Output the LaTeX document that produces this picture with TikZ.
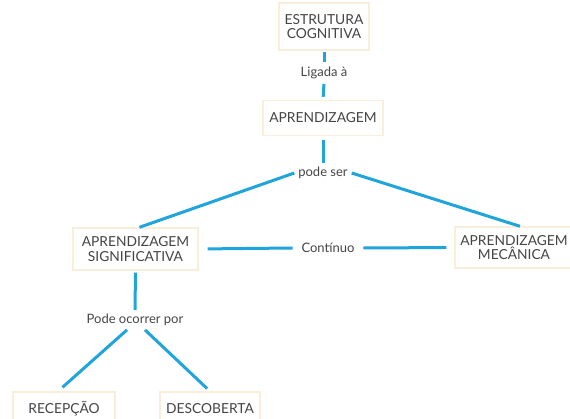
\documentclass[tikz,border=0pt]{standalone}
\usepackage{fontspec}
\setmainfont{Lato}
\definecolor{linkblue}{HTML}{1FA4DC}
\definecolor{boxtan}{HTML}{F8EEDA}
\definecolor{txtgray}{HTML}{454545}
\begin{document}
\begin{tikzpicture}[x=1pt,y=-1pt,
  concept/.style={draw=boxtan,line width=1.4pt,fill=white,text=txtgray,align=center,
    font=\fontsize{13.8}{14.5}\selectfont,inner sep=0pt},
  linklabel/.style={text=txtgray,font=\fontsize{13}{14}\selectfont,inner sep=1pt,outer sep=3pt},
  conn/.style={draw=linkblue,line width=3pt}]
\useasboundingbox (0,0) rectangle (570,419);
\node[concept,minimum width=90pt,minimum height=47pt] (ec) at (324,26.5) {ESTRUTURA\\COGNITIVA};
\node[linklabel] (lig) at (324,73) {Ligada à};
\node[concept,minimum width=120pt,minimum height=35pt] (apr) at (323,118) {APRENDIZAGEM};
\node[linklabel] (pode) at (323,173) {pode ser};
\node[concept,minimum width=125pt,minimum height=42pt] (sig) at (135.5,249) {APRENDIZAGEM\\SIGNIFICATIVA};
\node[linklabel,outer sep=8pt] (cont) at (328,248) {Contínuo};
\node[concept,minimum width=118pt,minimum height=41pt] (mec) at (514,247.5) {APRENDIZAGEM\\MECÂNICA};
\node[linklabel] (ocor) at (135,320) {Pode ocorrer por};
\node[concept,minimum width=102pt,minimum height=34pt] (rec) at (64,409) {RECEPÇÃO};
\node[concept,minimum width=100pt,minimum height=34pt] (desc) at (210,409) {DESCOBERTA};
\draw[conn,shorten <=1pt,shorten >=1pt] (ec.south) -- (lig.north);
\draw[conn,shorten <=1pt,shorten >=3pt] (lig.south) -- (apr.north);
\draw[conn,shorten <=4pt] (apr.south) -- (pode.north);
\draw[conn] (pode.west) -- ([xshift=4pt]sig.north);
\draw[conn] (pode.east) -- ([xshift=6pt]mec.north);
\draw[conn,shorten <=9pt] (sig.east) -- (cont.west);
\draw[conn,shorten >=8pt] (cont.east) -- (mec.west);
\draw[conn,shorten <=2pt] (sig.south) -- (ocor.north);
\draw[conn,shorten >=6pt] ([xshift=-8pt]ocor.south) -- ([xshift=-6pt]rec.north);
\draw[conn,shorten >=4pt] ([xshift=10pt]ocor.south) -- (desc.north);
\end{tikzpicture}
\end{document}
